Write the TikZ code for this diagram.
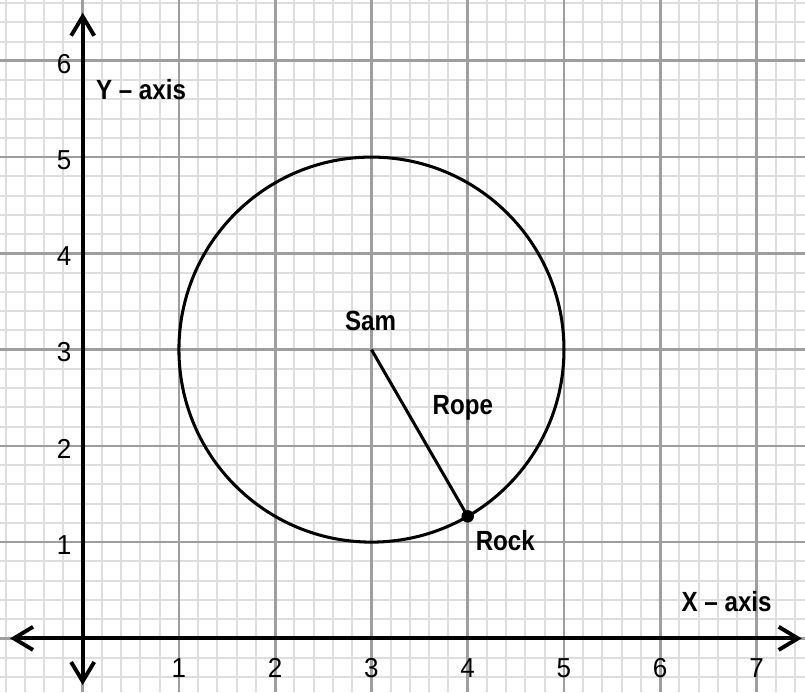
\documentclass[tikz,border=0pt]{standalone}
\usepackage{fontspec}
\setmainfont[FakeStretch=0.87]{Liberation Sans}
\newfontfamily\numfont[FakeStretch=0.95]{Liberation Sans}
\usetikzlibrary{arrows.meta,calc}
\begin{document}
\begin{tikzpicture}[
  minorgrid/.style={draw=black!13, line width=0.6pt},
  majorgrid/.style={draw=black!38, line width=0.8pt},
  axisline/.style={line width=1.15pt, {Straight Barb[length=2mm,width=2.4mm]}-{Straight Barb[length=2mm,width=2.4mm]}},
  ticklabel/.style={font=\numfont\fontsize{8.1}{9}\selectfont, inner sep=0pt},
  axislabel/.style={font=\fontsize{8.2}{9}\selectfont\bfseries, inner sep=0pt},
  pathline/.style={line width=0.9pt},
  rockdot/.style={circle, fill=black, inner sep=0pt, minimum size=0.13cm}
]
\useasboundingbox (-0.859,-0.558) rectangle (7.504,6.632);
% grid
\draw[minorgrid] (-0.859,-0.558) grid[step=0.2] (7.504,6.632);
\draw[majorgrid] (-0.859,-0.558) grid[step=1] (7.504,6.632);
% axes
\coordinate (xl) at (-0.755,0);
\coordinate (xr) at (7.47,0);
\coordinate (yb) at (0,-0.485);
\coordinate (yt) at (0,6.50);
\draw[axisline] (xl) -- (xr);
\draw[axisline] (yb) -- (yt);
% tick labels
\foreach \i in {1,...,7} {
  \node[ticklabel] (xt\i) at (\i,-0.305) {\i};
}
\foreach \i in {1,...,6} {
  \node[ticklabel] (yt\i) at (-0.194,\i-0.03) {\i};
}
\node[axislabel] (ylab) at (0.606,5.70) {Y – axis};
\node[axislabel] (xlab) at (6.69,0.38) {X – axis};
% circle and rope
\coordinate (sam) at (3,3);
\draw[pathline] (sam) circle[radius=2];
\node[rockdot] (rock) at ($(3,3)+(-60:2)$) {};
\draw[pathline] (sam) -- (rock.center);
\node[axislabel] (samlab) at (2.99,3.30) {Sam};
\node[axislabel] (ropelab) at (3.95,2.39) {Rope};
\node[axislabel] (rocklab) at (4.39,1.02) {Rock};
\end{tikzpicture}
\end{document}
